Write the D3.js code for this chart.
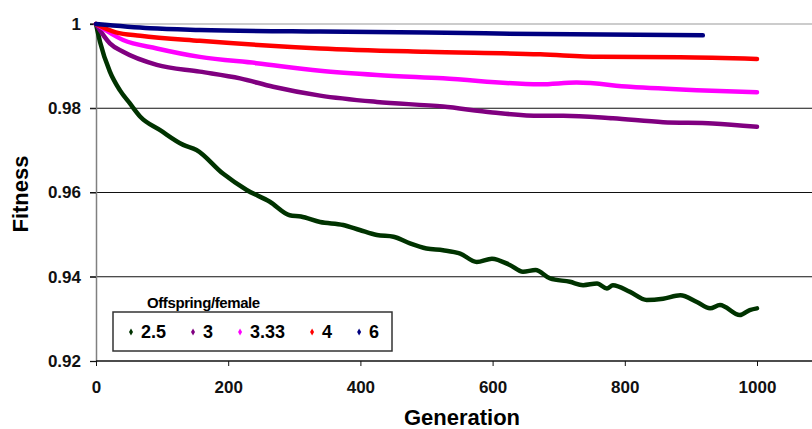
<!DOCTYPE html>
<html>
<head>
<meta charset="utf-8">
<script src="https://cdn.jsdelivr.net/npm/d3@7"></script>
<style>
  body { margin: 0; background: #fff; }
  svg { display: block; font-family: "Liberation Sans", Arial, sans-serif; }
</style>
</head>
<body>
<svg id="chart" width="812" height="429"></svg>
<script>
// values
const seriesNames = ['2.5', '3', '3.33', '4', '6'];
const seriesColors = ['#003300', '#800080', '#ff00ff', '#ff0000', '#000080'];

const gen25 = [0, 6, 21, 36, 51, 67, 97, 132, 152, 192, 228, 263, 293, 310, 339, 374, 399, 425, 450, 475, 500, 525, 551, 576, 599, 626, 646, 665, 687, 717, 737, 758, 773, 782, 808, 833, 858, 884, 909, 929, 944, 974, 989, 1000];
const fit25 = [1.0, 0.9958, 0.9887, 0.9843, 0.9812, 0.978, 0.9748, 0.9713, 0.9701, 0.9645, 0.9606, 0.9578, 0.9546, 0.9543, 0.953, 0.9523, 0.9511, 0.9499, 0.9495, 0.9479, 0.9467, 0.9463, 0.9455, 0.9435, 0.9443, 0.9428, 0.9412, 0.9416, 0.9396, 0.9388, 0.938, 0.9384, 0.9372, 0.938, 0.9364, 0.9345, 0.9348, 0.9356, 0.934, 0.9325, 0.9333, 0.9309, 0.9321, 0.9325];

const gen3 = [0, 21, 41, 92, 157, 218, 268, 339, 425, 525, 600, 672, 707, 782, 858, 933, 1000];
const fit3 = [1.0, 0.9954, 0.9934, 0.9903, 0.9887, 0.9871, 0.9851, 0.983, 0.9815, 0.9804, 0.979, 0.9782, 0.9782, 0.9776, 0.9767, 0.9764, 0.9756];

const gen333 = [0, 41, 92, 157, 243, 339, 425, 525, 672, 727, 808, 909, 1000];
const fit333 = [1.0, 0.9962, 0.9942, 0.9922, 0.9907, 0.9889, 0.9879, 0.9871, 0.9857, 0.9861, 0.9851, 0.9843, 0.9838];

const gen4 = [0, 30, 67, 157, 339, 498, 672, 762, 884, 1000];
const fit4 = [1.0, 0.998, 0.9972, 0.996, 0.9942, 0.9934, 0.9928, 0.9922, 0.9921, 0.9917];

const gen6 = [0, 82, 157, 339, 500, 672, 918];
const fit6 = [1.0, 0.999, 0.9986, 0.9982, 0.998, 0.9976, 0.9973];

const xTicks = [0, 200, 400, 600, 800, 1000];
const yTicks = [0.92, 0.94, 0.96, 0.98, 1];

const gens = [gen25, gen3, gen333, gen4, gen6];
const fits = [fit25, fit3, fit333, fit4, fit6];

const svg = d3.select('#chart');
const x = d3.scaleLinear().domain([0, 1000]).range([96, 757]);
const y = d3.scaleLinear().domain([0.92, 1]).range([361, 24]);

// grid lines (top one is the plot border, grey)
svg.append('g').selectAll('line').data(yTicks.filter(d => d > 0.92)).join('line')
  .attr('x1', 90).attr('x2', 812)
  .attr('y1', d => y(d)).attr('y2', d => y(d))
  .attr('stroke', d => d === 1 ? '#999' : '#111').attr('stroke-width', 1.2);
svg.append('line').attr('x1', 90).attr('x2', 96).attr('y1', y(1)).attr('y2', y(1))
  .attr('stroke', '#111').attr('stroke-width', 1.2);

// y axis
const yAxis = svg.append('g').attr('transform', 'translate(96,0)')
  .call(d3.axisLeft(y).tickValues(yTicks).tickSize(6).tickPadding(9).tickFormat(d => d === 1 ? '1' : d3.format('.2f')(d)));
yAxis.select('.domain').attr('stroke', '#808080').attr('stroke-width', 1.5);
yAxis.selectAll('.tick line').attr('stroke', '#111');
yAxis.selectAll('text').attr('font-size', 17).attr('font-weight', 'bold').attr('fill', '#111')
  .attr('font-family', '"Liberation Sans", Arial, sans-serif');

// x axis
const xAxis = svg.append('g').attr('transform', 'translate(0,361)')
  .call(d3.axisBottom(x).tickValues(xTicks).tickSize(5).tickPadding(15).tickSizeOuter(0).tickFormat(d3.format('d')));
xAxis.select('.domain').attr('d', 'M96,0H812').attr('stroke', '#111').attr('stroke-width', 1.5);
xAxis.selectAll('.tick line').attr('stroke', '#111');
xAxis.selectAll('text').attr('font-size', 17).attr('font-weight', 'bold').attr('fill', '#111')
  .attr('font-family', '"Liberation Sans", Arial, sans-serif');

// lines
const line = d3.line().x(d => x(d[0])).y(d => y(d[1])).curve(d3.curveMonotoneX);
svg.append('g').selectAll('path').data(seriesNames).join('path')
  .attr('d', (n, i) => line(d3.zip(gens[i], fits[i])))
  .attr('fill', 'none')
  .attr('stroke', (n, i) => seriesColors[i])
  .attr('stroke-width', 4.5)
  .attr('stroke-linejoin', 'round')
  .attr('stroke-linecap', 'round');

// axis titles
svg.append('text').attr('x', 462).attr('y', 425).attr('text-anchor', 'middle')
  .attr('font-size', 22).attr('font-weight', 'bold').text('Generation');
svg.append('text').attr('transform', 'translate(28,194) rotate(-90)').attr('text-anchor', 'middle')
  .attr('font-size', 22).attr('font-weight', 'bold').text('Fitness');

// legend
const legend = svg.append('g');
legend.append('text').attr('x', 147).attr('y', 308).attr('font-size', 15).attr('font-weight', 'bold')
  .attr('letter-spacing', -0.4).text('Offspring/female');
legend.append('rect').attr('x', 113).attr('y', 312).attr('width', 279).attr('height', 39)
  .attr('fill', '#fff').attr('stroke', '#333').attr('stroke-width', 1.5);
let lx = 131;
seriesNames.forEach((n, i) => {
  legend.append('path').attr('d', d3.symbol(d3.symbolDiamond, 14)())
    .attr('transform', `translate(${lx},332)`).attr('fill', seriesColors[i]);
  const t = legend.append('text').attr('x', lx + 10).attr('y', 338).attr('font-size', 18)
    .attr('font-weight', 'bold').text(n);
  lx += 10 + t.node().getComputedTextLength() + 27;
});
</script>
</body>
</html>
